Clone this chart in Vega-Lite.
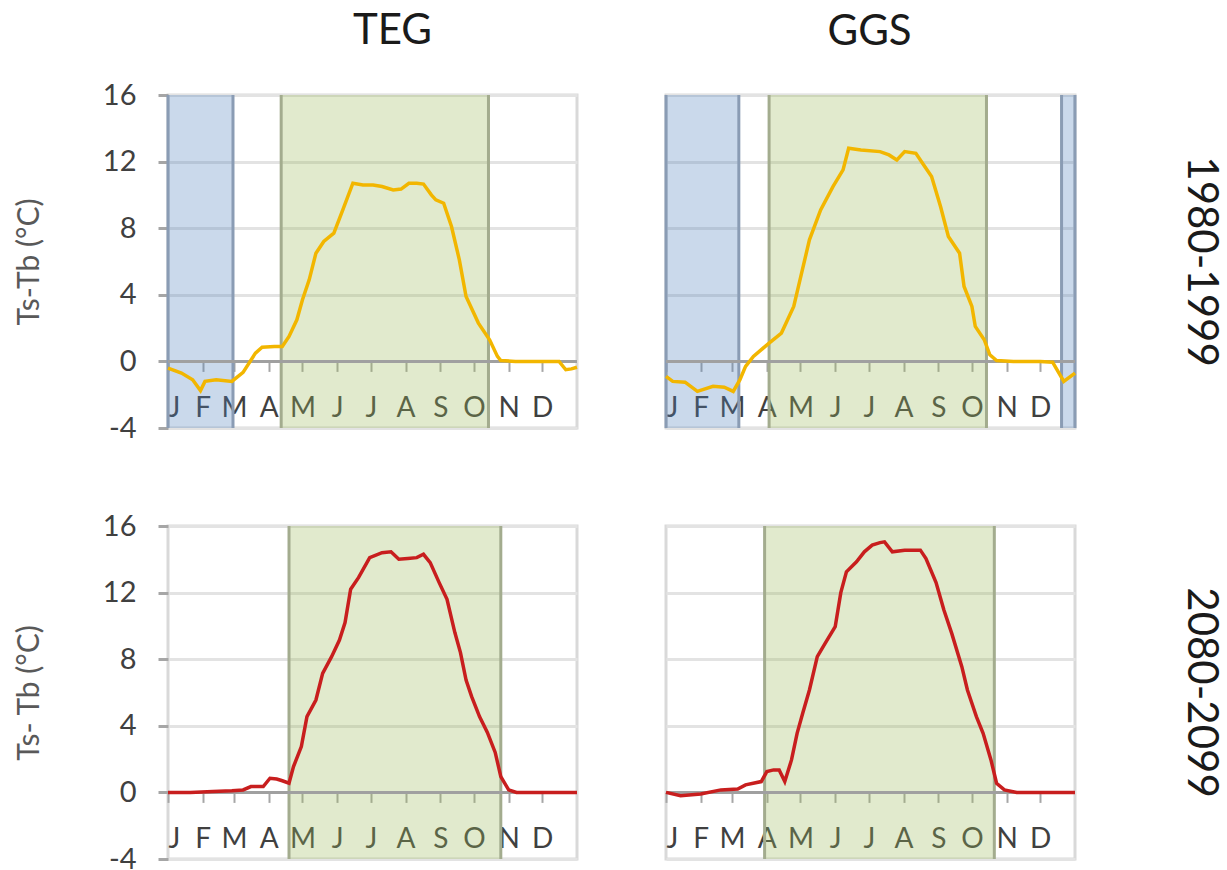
{
  "$schema": "https://vega.github.io/schema/vega-lite/v6.json",
  "background": "white",
  "padding": {"left": 12, "top": 8, "right": 0, "bottom": 0},
  "config": {
    "font": "Lato",
    "view": {"stroke": "#d9d9d9", "strokeWidth": 3},
    "title": {"fontSize": 42, "fontWeight": "normal", "color": "#1a1a1a", "font": "Lato"},
    "axisX": {"labelExpr": "['J','F','M','A','M','J','J','A','S','O','N','D'][round(datum.value/30.42)]", "offset": -66.6, "domain": false, "grid": false, "tickSize": 10, "tickColor": "#a6a6a6", "tickWidth": 2, "labelFontSize": 28, "labelColor": "#404040", "labelPadding": 23, "labelFlush": true, "labelOverlap": false, "labelAngle": 0, "title": null, "zindex": 0},
    "axisY": {"labelExpr": "'' + datum.value", "grid": true, "gridColor": "#e3e3e3", "gridWidth": 3, "domain": false, "tickSize": 10, "tickColor": "#a6a6a6", "tickWidth": 3, "labelFontSize": 29, "labelColor": "#404040", "labelPadding": 22, "titleFontSize": 30, "titleFontWeight": "normal", "titleColor": "#595959", "titlePadding": 58, "zindex": 0}
  },
  "datasets": {
    "curves": [
      {"site":"TEG","period":"1980-1999","day":0,"v":-0.4},{"site":"TEG","period":"1980-1999","day":12,"v":-0.7},{"site":"TEG","period":"1980-1999","day":22,"v":-1.1},{"site":"TEG","period":"1980-1999","day":29,"v":-1.75},{"site":"TEG","period":"1980-1999","day":33,"v":-1.2},{"site":"TEG","period":"1980-1999","day":43,"v":-1.1},{"site":"TEG","period":"1980-1999","day":57,"v":-1.2},{"site":"TEG","period":"1980-1999","day":67,"v":-0.66},{"site":"TEG","period":"1980-1999","day":78,"v":0.5},{"site":"TEG","period":"1980-1999","day":84,"v":0.85},{"site":"TEG","period":"1980-1999","day":95,"v":0.9},{"site":"TEG","period":"1980-1999","day":102,"v":0.9},{"site":"TEG","period":"1980-1999","day":108,"v":1.5},{"site":"TEG","period":"1980-1999","day":115,"v":2.5},{"site":"TEG","period":"1980-1999","day":120,"v":3.7},{"site":"TEG","period":"1980-1999","day":126,"v":4.9},{"site":"TEG","period":"1980-1999","day":132,"v":6.5},{"site":"TEG","period":"1980-1999","day":139,"v":7.2},{"site":"TEG","period":"1980-1999","day":148,"v":7.7},{"site":"TEG","period":"1980-1999","day":156,"v":9.1},{"site":"TEG","period":"1980-1999","day":165,"v":10.7},{"site":"TEG","period":"1980-1999","day":174,"v":10.6},{"site":"TEG","period":"1980-1999","day":183,"v":10.6},{"site":"TEG","period":"1980-1999","day":191,"v":10.5},{"site":"TEG","period":"1980-1999","day":201,"v":10.3},{"site":"TEG","period":"1980-1999","day":208,"v":10.35},{"site":"TEG","period":"1980-1999","day":215,"v":10.7},{"site":"TEG","period":"1980-1999","day":222,"v":10.7},{"site":"TEG","period":"1980-1999","day":228,"v":10.65},{"site":"TEG","period":"1980-1999","day":235,"v":10.0},{"site":"TEG","period":"1980-1999","day":239,"v":9.7},{"site":"TEG","period":"1980-1999","day":246,"v":9.5},{"site":"TEG","period":"1980-1999","day":253,"v":8.1},{"site":"TEG","period":"1980-1999","day":260,"v":6.1},{"site":"TEG","period":"1980-1999","day":266,"v":3.9},{"site":"TEG","period":"1980-1999","day":277,"v":2.3},{"site":"TEG","period":"1980-1999","day":287,"v":1.3},{"site":"TEG","period":"1980-1999","day":294,"v":0.3},{"site":"TEG","period":"1980-1999","day":297,"v":0.05},{"site":"TEG","period":"1980-1999","day":310,"v":0.0},{"site":"TEG","period":"1980-1999","day":330,"v":0.0},{"site":"TEG","period":"1980-1999","day":349,"v":0.0},{"site":"TEG","period":"1980-1999","day":355,"v":-0.5},{"site":"TEG","period":"1980-1999","day":360,"v":-0.45},{"site":"TEG","period":"1980-1999","day":365,"v":-0.35},

      {"site":"GGS","period":"1980-1999","day":0,"v":-0.9},{"site":"GGS","period":"1980-1999","day":6,"v":-1.2},{"site":"GGS","period":"1980-1999","day":17,"v":-1.25},{"site":"GGS","period":"1980-1999","day":28,"v":-1.8},{"site":"GGS","period":"1980-1999","day":42,"v":-1.5},{"site":"GGS","period":"1980-1999","day":52,"v":-1.55},{"site":"GGS","period":"1980-1999","day":60,"v":-1.8},{"site":"GGS","period":"1980-1999","day":66,"v":-1.1},{"site":"GGS","period":"1980-1999","day":71,"v":-0.3},{"site":"GGS","period":"1980-1999","day":78,"v":0.3},{"site":"GGS","period":"1980-1999","day":92,"v":1.1},{"site":"GGS","period":"1980-1999","day":103,"v":1.7},{"site":"GGS","period":"1980-1999","day":114,"v":3.3},{"site":"GGS","period":"1980-1999","day":121,"v":5.3},{"site":"GGS","period":"1980-1999","day":128,"v":7.3},{"site":"GGS","period":"1980-1999","day":138,"v":9.1},{"site":"GGS","period":"1980-1999","day":149,"v":10.5},{"site":"GGS","period":"1980-1999","day":158,"v":11.5},{"site":"GGS","period":"1980-1999","day":163,"v":12.8},{"site":"GGS","period":"1980-1999","day":174,"v":12.7},{"site":"GGS","period":"1980-1999","day":191,"v":12.6},{"site":"GGS","period":"1980-1999","day":199,"v":12.4},{"site":"GGS","period":"1980-1999","day":206,"v":12.1},{"site":"GGS","period":"1980-1999","day":213,"v":12.6},{"site":"GGS","period":"1980-1999","day":223,"v":12.5},{"site":"GGS","period":"1980-1999","day":230,"v":11.8},{"site":"GGS","period":"1980-1999","day":237,"v":11.1},{"site":"GGS","period":"1980-1999","day":245,"v":9.3},{"site":"GGS","period":"1980-1999","day":252,"v":7.5},{"site":"GGS","period":"1980-1999","day":262,"v":6.5},{"site":"GGS","period":"1980-1999","day":266,"v":4.5},{"site":"GGS","period":"1980-1999","day":273,"v":3.3},{"site":"GGS","period":"1980-1999","day":276,"v":2.1},{"site":"GGS","period":"1980-1999","day":284,"v":1.3},{"site":"GGS","period":"1980-1999","day":289,"v":0.4},{"site":"GGS","period":"1980-1999","day":295,"v":0.05},{"site":"GGS","period":"1980-1999","day":310,"v":0.0},{"site":"GGS","period":"1980-1999","day":334,"v":0.0},{"site":"GGS","period":"1980-1999","day":345,"v":-0.05},{"site":"GGS","period":"1980-1999","day":355,"v":-1.2},{"site":"GGS","period":"1980-1999","day":365,"v":-0.7},

      {"site":"TEG","period":"2080-2099","day":0,"v":0.0},{"site":"TEG","period":"2080-2099","day":20,"v":0.0},{"site":"TEG","period":"2080-2099","day":40,"v":0.05},{"site":"TEG","period":"2080-2099","day":57,"v":0.1},{"site":"TEG","period":"2080-2099","day":67,"v":0.15},{"site":"TEG","period":"2080-2099","day":74,"v":0.35},{"site":"TEG","period":"2080-2099","day":85,"v":0.35},{"site":"TEG","period":"2080-2099","day":91,"v":0.85},{"site":"TEG","period":"2080-2099","day":97,"v":0.8},{"site":"TEG","period":"2080-2099","day":102,"v":0.7},{"site":"TEG","period":"2080-2099","day":108,"v":0.55},{"site":"TEG","period":"2080-2099","day":112,"v":1.55},{"site":"TEG","period":"2080-2099","day":119,"v":2.75},{"site":"TEG","period":"2080-2099","day":124,"v":4.55},{"site":"TEG","period":"2080-2099","day":132,"v":5.55},{"site":"TEG","period":"2080-2099","day":138,"v":7.15},{"site":"TEG","period":"2080-2099","day":146,"v":8.15},{"site":"TEG","period":"2080-2099","day":153,"v":9.15},{"site":"TEG","period":"2080-2099","day":158,"v":10.2},{"site":"TEG","period":"2080-2099","day":163,"v":12.2},{"site":"TEG","period":"2080-2099","day":170,"v":12.9},{"site":"TEG","period":"2080-2099","day":180,"v":14.1},{"site":"TEG","period":"2080-2099","day":191,"v":14.4},{"site":"TEG","period":"2080-2099","day":199,"v":14.45},{"site":"TEG","period":"2080-2099","day":206,"v":14.0},{"site":"TEG","period":"2080-2099","day":214,"v":14.05},{"site":"TEG","period":"2080-2099","day":222,"v":14.1},{"site":"TEG","period":"2080-2099","day":228,"v":14.3},{"site":"TEG","period":"2080-2099","day":234,"v":13.8},{"site":"TEG","period":"2080-2099","day":242,"v":12.6},{"site":"TEG","period":"2080-2099","day":249,"v":11.6},{"site":"TEG","period":"2080-2099","day":256,"v":9.6},{"site":"TEG","period":"2080-2099","day":261,"v":8.4},{"site":"TEG","period":"2080-2099","day":266,"v":6.75},{"site":"TEG","period":"2080-2099","day":271,"v":5.75},{"site":"TEG","period":"2080-2099","day":278,"v":4.55},{"site":"TEG","period":"2080-2099","day":285,"v":3.6},{"site":"TEG","period":"2080-2099","day":292,"v":2.4},{"site":"TEG","period":"2080-2099","day":297,"v":0.95},{"site":"TEG","period":"2080-2099","day":304,"v":0.15},{"site":"TEG","period":"2080-2099","day":311,"v":0.0},{"site":"TEG","period":"2080-2099","day":340,"v":0.0},{"site":"TEG","period":"2080-2099","day":365,"v":0.0},

      {"site":"GGS","period":"2080-2099","day":0,"v":0.0},{"site":"GGS","period":"2080-2099","day":13,"v":-0.2},{"site":"GGS","period":"2080-2099","day":31,"v":-0.1},{"site":"GGS","period":"2080-2099","day":49,"v":0.15},{"site":"GGS","period":"2080-2099","day":64,"v":0.2},{"site":"GGS","period":"2080-2099","day":71,"v":0.45},{"site":"GGS","period":"2080-2099","day":85,"v":0.65},{"site":"GGS","period":"2080-2099","day":90,"v":1.25},{"site":"GGS","period":"2080-2099","day":96,"v":1.35},{"site":"GGS","period":"2080-2099","day":101,"v":1.35},{"site":"GGS","period":"2080-2099","day":106,"v":0.65},{"site":"GGS","period":"2080-2099","day":112,"v":1.95},{"site":"GGS","period":"2080-2099","day":117,"v":3.55},{"site":"GGS","period":"2080-2099","day":122,"v":4.75},{"site":"GGS","period":"2080-2099","day":128,"v":6.15},{"site":"GGS","period":"2080-2099","day":135,"v":8.15},{"site":"GGS","period":"2080-2099","day":142,"v":8.95},{"site":"GGS","period":"2080-2099","day":151,"v":9.95},{"site":"GGS","period":"2080-2099","day":156,"v":12.0},{"site":"GGS","period":"2080-2099","day":161,"v":13.25},{"site":"GGS","period":"2080-2099","day":170,"v":13.85},{"site":"GGS","period":"2080-2099","day":177,"v":14.45},{"site":"GGS","period":"2080-2099","day":184,"v":14.85},{"site":"GGS","period":"2080-2099","day":191,"v":15.0},{"site":"GGS","period":"2080-2099","day":195,"v":15.05},{"site":"GGS","period":"2080-2099","day":202,"v":14.45},{"site":"GGS","period":"2080-2099","day":213,"v":14.55},{"site":"GGS","period":"2080-2099","day":227,"v":14.55},{"site":"GGS","period":"2080-2099","day":232,"v":14.05},{"site":"GGS","period":"2080-2099","day":241,"v":12.6},{"site":"GGS","period":"2080-2099","day":248,"v":10.95},{"site":"GGS","period":"2080-2099","day":255,"v":9.55},{"site":"GGS","period":"2080-2099","day":264,"v":7.55},{"site":"GGS","period":"2080-2099","day":269,"v":6.15},{"site":"GGS","period":"2080-2099","day":277,"v":4.55},{"site":"GGS","period":"2080-2099","day":283,"v":3.55},{"site":"GGS","period":"2080-2099","day":290,"v":1.95},{"site":"GGS","period":"2080-2099","day":295,"v":0.55},{"site":"GGS","period":"2080-2099","day":302,"v":0.15},{"site":"GGS","period":"2080-2099","day":313,"v":0.0},{"site":"GGS","period":"2080-2099","day":340,"v":0.0},{"site":"GGS","period":"2080-2099","day":365,"v":0.0}
    ],
    "shades": [
      {"site":"TEG","period":"1980-1999","kind":"cold","start":0,"end":58},
      {"site":"TEG","period":"1980-1999","kind":"warm","start":101,"end":286},
      {"site":"GGS","period":"1980-1999","kind":"cold","start":0,"end":65},
      {"site":"GGS","period":"1980-1999","kind":"warm","start":92,"end":286},
      {"site":"GGS","period":"1980-1999","kind":"cold","start":353,"end":365},
      {"site":"TEG","period":"2080-2099","kind":"warm","start":108,"end":297},
      {"site":"GGS","period":"2080-2099","kind":"warm","start":88,"end":293}
    ]
  },
  "spacing": 65,
  "vconcat": [
    {
      "spacing": 71,
      "hconcat": [
        {
          "width": 409, "height": 333,
          "title": {"text": "TEG", "offset": 28, "dx": 20},
          "layer": [
            {"data": {"name": "shades"}, "transform": [{"filter": "datum.site == 'TEG' && datum.period == '1980-1999'"}],
             "mark": {"type": "rect", "opacity": 0.3},
             "encoding": {
               "x": {"field": "start", "type": "quantitative", "scale": {"domain": [0, 365], "nice": false, "zero": false}, "axis": {"values": [0,31,59,90,120,151,181,212,243,273,304,334], "tickCount": 40, "labelOverlap": false}},
               "x2": {"field": "end"},
               "fill": {"condition": {"test": "datum.kind == 'cold'", "value": "#4f81bd"}, "value": "#9bbb59"}}},
            {"data": {"name": "shades"}, "transform": [{"filter": "datum.site == 'TEG' && datum.period == '1980-1999'"}],
             "mark": {"type": "rule", "strokeWidth": 3},
             "encoding": {"x": {"field": "start", "type": "quantitative"}, "stroke": {"condition": {"test": "datum.kind == 'cold'", "value": "#8a9cb4"}, "value": "#a3ac8e"}}},
            {"data": {"name": "shades"}, "transform": [{"filter": "datum.site == 'TEG' && datum.period == '1980-1999'"}],
             "mark": {"type": "rule", "strokeWidth": 3},
             "encoding": {"x": {"field": "end", "type": "quantitative"}, "stroke": {"condition": {"test": "datum.kind == 'cold'", "value": "#8a9cb4"}, "value": "#a3ac8e"}}},
            {"data": {"values": [{}]}, "mark": {"type": "rule", "color": "#a0a0a0", "strokeWidth": 3}, "encoding": {"y": {"datum": 0, "type": "quantitative"}}},
            {"data": {"name": "curves"}, "transform": [{"filter": "datum.site == 'TEG' && datum.period == '1980-1999'"}],
             "mark": {"type": "line", "color": "#f2b600", "strokeWidth": 3.5},
             "encoding": {
               "x": {"field": "day", "type": "quantitative"},
               "y": {"field": "v", "type": "quantitative", "scale": {"domain": [-4, 16], "nice": false, "zero": false}, "axis": {"values": [-4,0,4,8,12,16], "title": "Ts-Tb (°C)"}}}}
          ]
        },
        {
          "title": {"text": "GGS", "offset": 38, "anchor": "start", "dx": 170},
          "vconcat": [
            {
              "width": 409, "height": 333,
              "title": {"text": "1980-1999", "orient": "right", "offset": 97, "anchor": "middle", "frame": "group"},
              "layer": [
                {"data": {"name": "shades"}, "transform": [{"filter": "datum.site == 'GGS' && datum.period == '1980-1999'"}],
                 "mark": {"type": "rect", "opacity": 0.3},
                 "encoding": {
                   "x": {"field": "start", "type": "quantitative", "scale": {"domain": [0, 365], "nice": false, "zero": false}, "axis": {"values": [0,31,59,90,120,151,181,212,243,273,304,334], "tickCount": 40, "labelOverlap": false}},
                   "x2": {"field": "end"},
                   "fill": {"condition": {"test": "datum.kind == 'cold'", "value": "#4f81bd"}, "value": "#9bbb59"}}},
                {"data": {"name": "shades"}, "transform": [{"filter": "datum.site == 'GGS' && datum.period == '1980-1999'"}],
                 "mark": {"type": "rule", "strokeWidth": 3},
                 "encoding": {"x": {"field": "start", "type": "quantitative"}, "stroke": {"condition": {"test": "datum.kind == 'cold'", "value": "#8a9cb4"}, "value": "#a3ac8e"}}},
                {"data": {"name": "shades"}, "transform": [{"filter": "datum.site == 'GGS' && datum.period == '1980-1999'"}],
                 "mark": {"type": "rule", "strokeWidth": 3},
                 "encoding": {"x": {"field": "end", "type": "quantitative"}, "stroke": {"condition": {"test": "datum.kind == 'cold'", "value": "#8a9cb4"}, "value": "#a3ac8e"}}},
                {"data": {"values": [{}]}, "mark": {"type": "rule", "color": "#a0a0a0", "strokeWidth": 3}, "encoding": {"y": {"datum": 0, "type": "quantitative"}}},
                {"data": {"name": "curves"}, "transform": [{"filter": "datum.site == 'GGS' && datum.period == '1980-1999'"}],
                 "mark": {"type": "line", "color": "#f2b600", "strokeWidth": 3.5},
                 "encoding": {
                   "x": {"field": "day", "type": "quantitative"},
                   "y": {"field": "v", "type": "quantitative", "scale": {"domain": [-4, 16], "nice": false, "zero": false}, "axis": {"values": [-4,0,4,8,12,16], "ticks": false, "labels": false, "title": null}}}}
              ]
            }
          ]
        }
      ]
    },
    {
      "spacing": 71,
      "hconcat": [
        {
          "width": 409, "height": 333,
          "layer": [
            {"data": {"name": "shades"}, "transform": [{"filter": "datum.site == 'TEG' && datum.period == '2080-2099'"}],
             "mark": {"type": "rect", "opacity": 0.3},
             "encoding": {
               "x": {"field": "start", "type": "quantitative", "scale": {"domain": [0, 365], "nice": false, "zero": false}, "axis": {"values": [0,31,59,90,120,151,181,212,243,273,304,334], "tickCount": 40, "labelOverlap": false}},
               "x2": {"field": "end"},
               "fill": {"condition": {"test": "datum.kind == 'cold'", "value": "#4f81bd"}, "value": "#9bbb59"}}},
            {"data": {"name": "shades"}, "transform": [{"filter": "datum.site == 'TEG' && datum.period == '2080-2099'"}],
             "mark": {"type": "rule", "strokeWidth": 3},
             "encoding": {"x": {"field": "start", "type": "quantitative"}, "stroke": {"condition": {"test": "datum.kind == 'cold'", "value": "#8a9cb4"}, "value": "#a3ac8e"}}},
            {"data": {"name": "shades"}, "transform": [{"filter": "datum.site == 'TEG' && datum.period == '2080-2099'"}],
             "mark": {"type": "rule", "strokeWidth": 3},
             "encoding": {"x": {"field": "end", "type": "quantitative"}, "stroke": {"condition": {"test": "datum.kind == 'cold'", "value": "#8a9cb4"}, "value": "#a3ac8e"}}},
            {"data": {"values": [{}]}, "mark": {"type": "rule", "color": "#a0a0a0", "strokeWidth": 3}, "encoding": {"y": {"datum": 0, "type": "quantitative"}}},
            {"data": {"name": "curves"}, "transform": [{"filter": "datum.site == 'TEG' && datum.period == '2080-2099'"}],
             "mark": {"type": "line", "color": "#c81e1e", "strokeWidth": 3.5},
             "encoding": {
               "x": {"field": "day", "type": "quantitative"},
               "y": {"field": "v", "type": "quantitative", "scale": {"domain": [-4, 16], "nice": false, "zero": false}, "axis": {"values": [-4,0,4,8,12,16], "title": "Ts- Tb (°C)"}}}}
          ]
        },
        {
          "width": 409, "height": 333,
          "title": {"text": "2080-2099", "orient": "right", "offset": 97, "anchor": "middle", "frame": "group"},
          "layer": [
            {"data": {"name": "shades"}, "transform": [{"filter": "datum.site == 'GGS' && datum.period == '2080-2099'"}],
             "mark": {"type": "rect", "opacity": 0.3},
             "encoding": {
               "x": {"field": "start", "type": "quantitative", "scale": {"domain": [0, 365], "nice": false, "zero": false}, "axis": {"values": [0,31,59,90,120,151,181,212,243,273,304,334], "tickCount": 40, "labelOverlap": false}},
               "x2": {"field": "end"},
               "fill": {"condition": {"test": "datum.kind == 'cold'", "value": "#4f81bd"}, "value": "#9bbb59"}}},
            {"data": {"name": "shades"}, "transform": [{"filter": "datum.site == 'GGS' && datum.period == '2080-2099'"}],
             "mark": {"type": "rule", "strokeWidth": 3},
             "encoding": {"x": {"field": "start", "type": "quantitative"}, "stroke": {"condition": {"test": "datum.kind == 'cold'", "value": "#8a9cb4"}, "value": "#a3ac8e"}}},
            {"data": {"name": "shades"}, "transform": [{"filter": "datum.site == 'GGS' && datum.period == '2080-2099'"}],
             "mark": {"type": "rule", "strokeWidth": 3},
             "encoding": {"x": {"field": "end", "type": "quantitative"}, "stroke": {"condition": {"test": "datum.kind == 'cold'", "value": "#8a9cb4"}, "value": "#a3ac8e"}}},
            {"data": {"values": [{}]}, "mark": {"type": "rule", "color": "#a0a0a0", "strokeWidth": 3}, "encoding": {"y": {"datum": 0, "type": "quantitative"}}},
            {"data": {"name": "curves"}, "transform": [{"filter": "datum.site == 'GGS' && datum.period == '2080-2099'"}],
             "mark": {"type": "line", "color": "#c81e1e", "strokeWidth": 3.5},
             "encoding": {
               "x": {"field": "day", "type": "quantitative"},
               "y": {"field": "v", "type": "quantitative", "scale": {"domain": [-4, 16], "nice": false, "zero": false}, "axis": {"values": [-4,0,4,8,12,16], "ticks": false, "labels": false, "title": null}}}}
          ]
        }
      ]
    }
  ]
}
